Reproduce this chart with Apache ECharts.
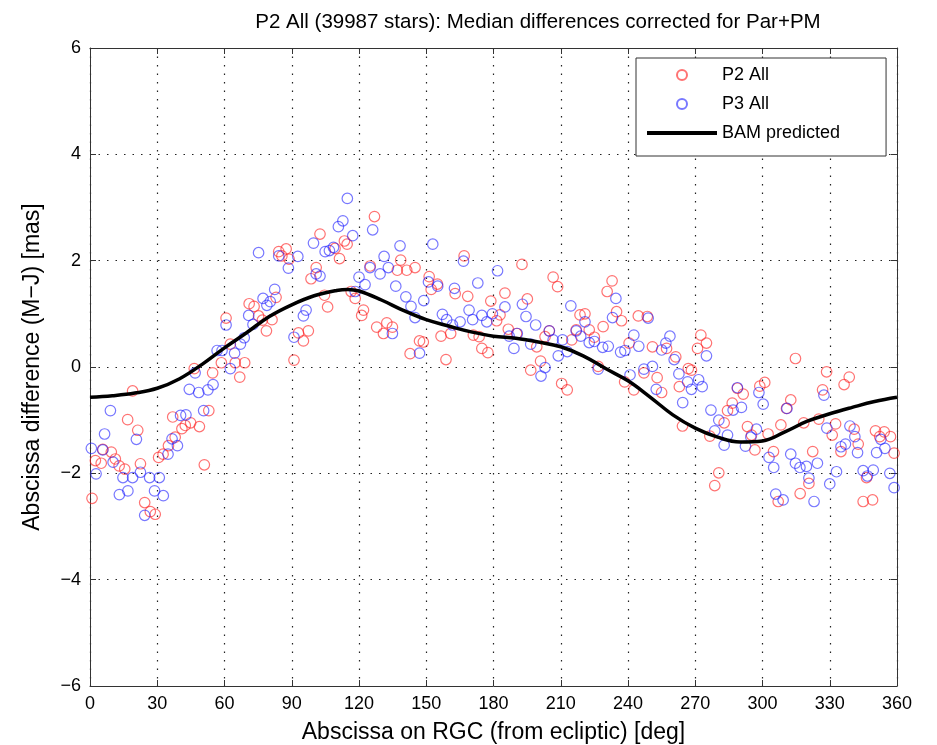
<!DOCTYPE html>
<html>
<head>
<meta charset="utf-8">
<script src="https://cdn.jsdelivr.net/npm/echarts@6/dist/echarts.min.js"></script>
<style>
  html, body { margin: 0; padding: 0; background: #fff; }
  #chart { width: 937px; height: 745px; }
</style>
</head>
<body>
<div id="chart"></div>
<script>
// Axis ticks
const xTicks = [0, 30, 60, 90, 120, 150, 180, 210, 240, 270, 300, 330, 360];
const yTicks = [-6, -4, -2, 0, 2, 4, 6];

// P2 All: median differences [abscissa deg, mas]
const p2All = [
  [0.9,-2.47],[2.4,-1.76],[5,-1.81],[5.7,-1.55],[9.5,-1.60],[11.3,-1.73],[13,-1.86],[15.5,-1.92],
  [16.8,-0.99],[19,-0.45],[21.3,-1.19],[22.5,-1.82],[24.4,-2.55],[26.9,-2.72],[29.1,-2.77],[30.6,-1.70],
  [32.6,-1.64],[35,-1.48],[36.9,-0.94],[38,-1.32],[41,-1.16],[42.5,-1.10],[44.9,-1.05],[46.5,-0.03],
  [48.8,-1.12],[51,-1.84],[53,-0.82],[54.7,-0.11],[58.6,0.08],[60.7,0.92],[62.6,0.43],[64.8,0.08],
  [66.8,-0.19],[69,0.08],[71,1.19],[73.2,1.14],[75.2,0.96],[76.9,0.88],[78.7,0.68],[81.2,0.89],
  [83,1.31],[84.2,2.17],[85.6,2.09],[87.5,2.22],
  [88.8,2.03],[91,0.13],[93,0.64],[95.2,0.49],[97.4,0.68],[98.6,1.66],[100.9,1.87],[102.6,2.50],
  [104.6,1.35],[106,1.13],[109.3,2.23],[111.3,2.04],[113.5,2.37],[114.7,2.31],[116.5,1.42],[118.3,1.29],
  [121.2,0.97],[122,1.07],[125,1.90],[126.9,2.83],[127.9,0.75],[130.9,0.63],[132.4,0.83],[134.9,0.75],
  [137.1,1.82],[138.6,2.01],[141.3,1.82],[142.8,0.25],[145,1.87],[147,0.49],[148.7,0.47],[151.3,1.70],
  [152.2,1.46],[155,1.56],[156.6,0.58],[158.8,0.14],[160.9,0.63],[162.9,1.38],[166.9,2.09],[168.5,1.33],
  [171,0.60],[173.6,0.57],[174.8,0.35],[177.5,0.27],[178.8,1.24],
  [181.4,0.87],[182.9,0.98],[185.1,1.39],[186.6,0.71],[190.3,0.63],[192.7,1.93],[195.1,1.28],[196.6,-0.06],
  [199.3,0.38],[201,0.11],[203,0.57],[204.9,0.68],[206.6,1.69],[208.6,1.51],[210.4,-0.31],[212.9,-0.43],
  [214.9,0.51],[216.9,0.70],[218.6,0.98],[220.8,1.00],[222.7,0.70],[225,0.56],[226.7,0.01],[228.9,0.76],
  [230.7,1.42],[232.9,1.62],[234.9,1.04],[237.1,0.87],[238.5,-0.28],[240.5,0.45],[242.6,-0.43],[244.6,0.96],
  [247.1,-0.11],[248.6,0.95],[250.9,0.38],[253,-0.20],[255,-0.48],[257.2,0.35],[261.3,0.19],[262.9,-0.37],
  [264.3,-1.11],[266.9,-0.03],[268.3,-0.06],[271,0.35],
  [272.5,0.60],[275,0.45],[276.5,-1.30],[278.7,-2.23],[280.5,-1.99],[282.9,-1.05],[284.4,-0.82],[286.5,-0.68],
  [288.8,-0.40],[291.4,-0.51],[293.3,-1.12],[295.1,-1.28],[296.6,-1.56],[298.8,-0.36],[301,-0.29],[302.5,-1.26],
  [304.9,-1.59],[307,-2.53],[308.2,-1.09],[310.7,-0.78],[312.6,-0.62],[314.7,0.16],[316.8,-2.38],[318.4,-1.05],
  [320.7,-2.19],[322.4,-1.59],[325.1,-0.98],[326.8,-0.43],[328.6,-0.09],[331.1,-1.28],[332.6,-1.07],[335,-1.59],
  [336.4,-0.33],[338.7,-0.19],[340.9,-1.17],[342.7,-1.45],[344.9,-2.53],[346.4,-2.08],[349.1,-2.50],[350.4,-1.20],
  [352.3,-1.31],[354.3,-1.22],[357.1,-1.31],[358.7,-1.62]
];

// P3 All: median differences [abscissa deg, mas]
const p3All = [
  [0.6,-1.53],[2.7,-2.01],[5.7,-1.56],[6.5,-1.26],[9.1,-0.82],[10.3,-1.79],[13.1,-2.40],[14.7,-2.08],
  [16.9,-2.33],[19,-2.08],[20.7,-1.36],[22.5,-1.98],[24.4,-2.79],[26.6,-2.08],[28.8,-2.33],[30.9,-2.08],
  [32.7,-2.42],[34.8,-1.64],[36.6,-1.35],[39,-1.48],[40.4,-0.91],[42.8,-0.90],[44.3,-0.42],[46.9,-0.11],
  [48.5,-0.48],[50.7,-0.82],[52.6,-0.43],[54.9,-0.33],[56.7,0.31],[58.9,0.31],[60.7,0.79],[62.6,-0.03],
  [64.5,0.26],[67.1,0.43],[68.8,0.55],[70.8,0.97],[72.7,0.80],[75.2,2.15],[77.2,1.29],[78.9,1.16],
  [80.4,1.23],[82.4,1.46],[84.2,2.09],[88.5,1.86],
  [91,0.56],[92.7,2.08],[95.2,0.96],[96.4,1.07],[99.7,2.33],[100.9,1.75],[102.6,1.71],[104.9,2.17],
  [106.8,2.19],[108.6,2.25],[110.8,2.64],[112.8,2.75],[114.8,3.17],[117.2,2.47],[118.3,1.42],[120,1.69],
  [122.7,1.55],[124.9,1.87],[126.1,2.58],[129.4,1.75],[131.2,2.08],[133.1,1.87],[134.9,0.63],[136.4,1.52],
  [138.3,2.28],[140.9,1.32],[143.2,1.14],[145,0.93],[147,0.26],[148.9,1.25],[151,1.60],[152.9,2.31],
  [155.1,1.52],[157.2,0.99],[159.1,0.89],[161.7,0.79],[162.6,1.48],[165.1,0.85],[166.6,1.99],[169.1,1.07],
  [170.7,0.89],[173,1.58],[174.8,0.97],[177,0.85],[179.5,1.00],[181.8,1.81],
  [185.1,1.13],[187,0.58],[189.1,0.35],[190.6,0.63],[192.9,1.18],[194.5,0.95],[196.6,0.43],[198.8,0.79],
  [201.2,-0.17],[203,-0.01],[204.9,0.68],[206.6,0.51],[208.9,0.21],[210.8,0.51],[212.9,0.29],[214.5,1.15],
  [216.9,0.68],[218.9,0.58],[220.8,0.85],[222.7,0.46],[225,0.48],[226.7,-0.04],[228.7,0.37],[231.2,0.39],
  [233.1,0.93],[234.6,1.29],[236.7,0.28],[238.6,0.31],[240.9,-0.15],[242.6,0.60],[244.8,0.39],[247.1,-0.04],
  [249,0.92],[250.9,0.01],[252.6,-0.42],[255,0.32],[256.9,0.45],[258.7,0.58],[260.6,0.14],[262.7,-0.13],
  [264.4,-0.67],[266.6,-0.28],[268.3,-0.42],[271.5,-0.24],
  [273.1,-0.37],[275,0.21],[277,-0.81],[278.7,-1.20],[280.5,-1.00],[282.9,-1.47],[284.4,-1.28],[286.9,-0.81],
  [288.8,-0.39],[290.6,-0.76],[292.4,-1.49],[294.8,-1.32],[297.3,-1.17],[298.4,-0.48],[300.3,-0.70],[302.9,-1.70],
  [305,-1.89],[305.9,-2.39],[309.2,-2.50],[310.9,-0.78],[312.6,-1.64],[314.7,-1.81],[316.7,-1.89],[319.6,-1.87],
  [320.7,-2.09],[323,-2.53],[324.5,-1.81],[327.4,-0.53],[328.7,-1.15],[330,-2.20],[333,-1.97],[335,-1.50],
  [337,-1.45],[339,-1.11],[341.2,-1.31],[342.4,-1.61],[344.9,-1.95],[346.8,-2.05],[349.4,-1.94],[350.9,-1.61],
  [352.8,-1.36],[354.6,-1.53],[356.8,-2.00],[358.7,-2.27]
];

// BAM predicted curve
const bamDeg = [0,10,20,30,40,50,60,70,80,90,100,110,115,120,130,140,150,160,170,180,
                190,200,210,220,230,240,250,260,270,280,290,300,310,320,330,340,350,360];
const bamVal = [-0.57,-0.54,-0.49,-0.40,-0.22,0.05,0.36,0.65,0.95,1.17,1.34,1.44,1.46,1.43,1.26,1.06,0.89,0.77,0.66,0.58,
                0.54,0.47,0.38,0.21,-0.03,-0.26,-0.57,-0.90,-1.15,-1.32,-1.41,-1.39,-1.22,-1.02,-0.88,-0.76,-0.65,-0.57];

const FONT = 'Liberation Sans, Arial, Helvetica, sans-serif';
const minus = v => (v < 0 ? '\u2212' + Math.abs(v) : String(v));

const chart = echarts.init(document.getElementById('chart'), null, { renderer: 'canvas' });

const frameLine = { show: true, onZero: false, lineStyle: { color: '#333', width: 1 } };
const innerTick = { show: true, inside: true, length: 6, lineStyle: { color: '#333', width: 1 } };
const dotted = { show: true, lineStyle: { color: '#222', width: 1.2, type: [1.5, 7] } };

chart.setOption({
  animation: false,
  backgroundColor: '#fff',
  textStyle: { fontFamily: FONT },
  title: {
    text: 'P2 All (39987 stars): Median differences corrected for Par+PM',
    left: 533, top: 7, textAlign: 'center',
    textStyle: { fontFamily: FONT, fontSize: 20.5, fontWeight: 'normal', color: '#000' }
  },
  grid: { left: 90, right: 40, top: 48, bottom: 59, containLabel: false, outerBoundsMode: 'none' },
  legend: {
    orient: 'vertical',
    left: 636, top: 58,
    padding: [6, 46, 12, 11],
    itemWidth: 70, itemHeight: 10, itemGap: 7,
    backgroundColor: '#fff',
    borderColor: '#333', borderWidth: 1,
    textStyle: { fontFamily: FONT, fontSize: 18, color: '#000', lineHeight: 22 },
    data: [
      { name: 'P2 All' },
      { name: 'P3 All' },
      { name: 'BAM predicted', icon: 'path://M0,0 L70,0 L70,4 L0,4 Z', symbolKeepAspect: true }
    ]
  },
  xAxis: [
    {
      type: 'value', min: 0, max: 360, interval: 30, position: 'bottom',
      name: 'Abscissa on RGC (from ecliptic) [deg]', nameLocation: 'middle', nameGap: 35,
      nameTextStyle: { fontFamily: FONT, fontSize: 23, color: '#000' },
      axisLine: frameLine, axisTick: innerTick, splitLine: dotted,
      axisLabel: { fontFamily: FONT, fontSize: 18, color: '#000', margin: 9,
                   customValues: xTicks, formatter: v => String(v) }
    },
    {
      type: 'value', min: 0, max: 360, interval: 30, position: 'top',
      axisLine: frameLine, axisTick: innerTick, splitLine: { show: false },
      axisLabel: { show: false }
    }
  ],
  yAxis: [
    {
      type: 'value', min: -6, max: 6, interval: 2, position: 'left',
      name: 'Abscissa difference (M\u2212J) [mas]', nameLocation: 'middle', nameGap: 46,
      nameTextStyle: { fontFamily: FONT, fontSize: 23, color: '#000' },
      axisLine: frameLine, axisTick: innerTick, splitLine: dotted,
      axisLabel: { fontFamily: FONT, fontSize: 18, color: '#000', margin: 9,
                   customValues: yTicks, formatter: minus }
    },
    {
      type: 'value', min: -6, max: 6, interval: 2, position: 'right',
      axisLine: frameLine, axisTick: innerTick, splitLine: { show: false },
      axisLabel: { show: false }
    }
  ],
  series: [
    {
      name: 'P2 All', type: 'scatter', xAxisIndex: 0, yAxisIndex: 0,
      symbol: 'circle', symbolSize: 10.5, z: 2,
      itemStyle: { color: 'rgba(0,0,0,0)', borderColor: 'rgba(255,30,30,0.78)', borderWidth: 1.2 },
      data: p2All
    },
    {
      name: 'P3 All', type: 'scatter', xAxisIndex: 0, yAxisIndex: 0,
      symbol: 'circle', symbolSize: 10.5, z: 3,
      itemStyle: { color: 'rgba(0,0,0,0)', borderColor: 'rgba(30,30,255,0.75)', borderWidth: 1.2 },
      data: p3All
    },
    {
      name: 'BAM predicted', type: 'line', xAxisIndex: 0, yAxisIndex: 0,
      symbol: 'none', smooth: 0.4, z: 4,
      lineStyle: { color: '#000', width: 3.5 },
      itemStyle: { color: '#000' },
      data: bamDeg.map((d, i) => [d, bamVal[i]])
    }
  ]
});
</script>
</body>
</html>
